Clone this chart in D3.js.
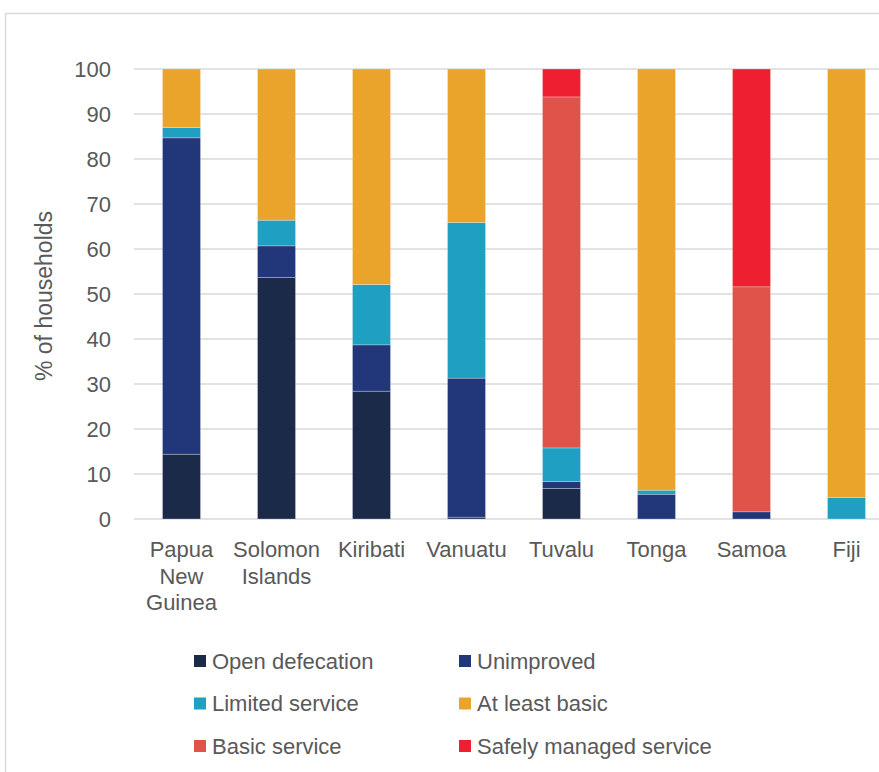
<!DOCTYPE html>
<html>
<head>
<meta charset="utf-8">
<script src="https://cdn.jsdelivr.net/npm/d3@7"></script>
<style>
  body { margin: 0; background: #fff; }
  svg text { font-family: "Liberation Sans", Arial, sans-serif; fill: #595959; }
</style>
</head>
<body>
<div id="chart"></div>
<script>
const countries = ['Papua New Guinea', 'Solomon Islands', 'Kiribati', 'Vanuatu', 'Tuvalu', 'Tonga', 'Samoa', 'Fiji']
const labelLines = [['Papua', 'New', 'Guinea'], ['Solomon', 'Islands'], ['Kiribati'], ['Vanuatu'], ['Tuvalu'], ['Tonga'], ['Samoa'], ['Fiji']]

const seriesNames = ['Open defecation', 'Unimproved', 'Limited service', 'Basic service', 'At least basic', 'Safely managed service']
const openDefecation = [14.4, 53.7, 28.4, 0.4, 6.8, 0, 0, 0]
const unimproved = [70.3, 7.0, 10.3, 30.9, 1.5, 5.5, 1.6, 0]
const limitedService = [2.3, 5.7, 13.4, 34.6, 7.5, 0.9, 0, 4.8]
const basicService = [0, 0, 0, 0, 78.0, 0, 50.0, 0]
const atLeastBasic = [13.0, 33.6, 47.9, 34.1, 0, 93.6, 0, 95.2]
const safelyManaged = [0, 0, 0, 0, 6.2, 0, 48.4, 0]
const yTicks = [0, 10, 20, 30, 40, 50, 60, 70, 80, 90, 100]

const colors = {
  'Open defecation': '#1c2a4a',
  'Unimproved': '#22377a',
  'Limited service': '#1f9fc2',
  'Basic service': '#e0534b',
  'At least basic': '#eaa42c',
  'Safely managed service': '#ee1f31'
}
const legendOrder = ['Open defecation', 'Unimproved', 'Limited service', 'At least basic', 'Basic service', 'Safely managed service']

const W = 879, H = 772
const margin = { left: 134, top: 69, bottom: 253 }

const rows = countries.map((c, i) => ({
  country: c,
  'Open defecation': openDefecation[i],
  'Unimproved': unimproved[i],
  'Limited service': limitedService[i],
  'Basic service': basicService[i],
  'At least basic': atLeastBasic[i],
  'Safely managed service': safelyManaged[i]
}))

const svg = d3.select('#chart').append('svg')
  .attr('width', W)
  .attr('height', H)

// outer frame
svg.append('rect')
  .attr('x', 5.5).attr('y', 13.5)
  .attr('width', W + 10).attr('height', H + 10)
  .attr('fill', 'none')
  .attr('stroke', '#d9d9d9')
  .attr('stroke-width', 1.5)

const x = d3.scaleBand()
  .domain(countries)
  .range([margin.left, margin.left + 95 * countries.length])
  .paddingInner(0.6)
  .paddingOuter(0.3)

const y = d3.scaleLinear().domain([0, 100]).range([H - margin.bottom, margin.top])

// gridlines
svg.append('g')
  .selectAll('line')
  .data(yTicks)
  .enter()
  .append('line')
  .attr('x1', margin.left)
  .attr('x2', W)
  .attr('y1', d => y(d))
  .attr('y2', d => y(d))
  .attr('stroke', '#d9d9d9')
  .attr('stroke-width', 1.5)

// y tick labels
svg.append('g')
  .selectAll('text')
  .data(yTicks)
  .enter()
  .append('text')
  .attr('x', 111)
  .attr('y', d => y(d))
  .attr('dy', '0.36em')
  .attr('text-anchor', 'end')
  .style('font-size', '22px')
  .text(d => d)

svg.append('text')
  .attr('transform', `translate(52, ${y(50) + 2}) rotate(-90)`)
  .attr('text-anchor', 'middle')
  .style('font-size', '23px')
  .text('% of households')

const stack = d3.stack().keys(seriesNames)(rows)

svg.append('g')
  .selectAll('g')
  .data(stack)
  .enter()
  .append('g')
  .attr('fill', d => colors[d.key])
  .selectAll('rect')
  .data(d => d.filter(p => p[1] - p[0] > 0))
  .enter()
  .append('rect')
  .attr('x', d => x(d.data.country))
  .attr('width', x.bandwidth())
  .attr('y', d => y(d[1]))
  .attr('height', d => y(d[0]) - y(d[1]))
  .attr('stroke', 'rgba(255,255,255,0.35)')
  .attr('stroke-width', 0.75)

// category labels
const cat = svg.append('g')
  .selectAll('text')
  .data(countries)
  .enter()
  .append('text')
  .attr('x', d => x(d) + x.bandwidth() / 2)
  .attr('y', 557)
  .attr('text-anchor', 'middle')
  .style('font-size', '22px')

cat.selectAll('tspan')
  .data((d, i) => labelLines[i])
  .enter()
  .append('tspan')
  .attr('x', function () { return d3.select(this.parentNode).attr('x') })
  .attr('dy', (d, i) => i === 0 ? 0 : 26.5)
  .text(d => d)

// legend
const legend = svg.append('g')
  .selectAll('g')
  .data(legendOrder)
  .enter()
  .append('g')
  .attr('transform', (d, i) => `translate(${i % 2 === 0 ? 194 : 459}, ${661 + Math.floor(i / 2) * 42.5})`)

legend.append('rect')
  .attr('x', 0).attr('y', -6)
  .attr('width', 12).attr('height', 12)
  .attr('fill', d => colors[d])

legend.append('text')
  .attr('x', 18)
  .attr('y', 0)
  .attr('dy', '0.36em')
  .style('font-size', '22px')
  .text(d => d)
</script>
</body>
</html>
